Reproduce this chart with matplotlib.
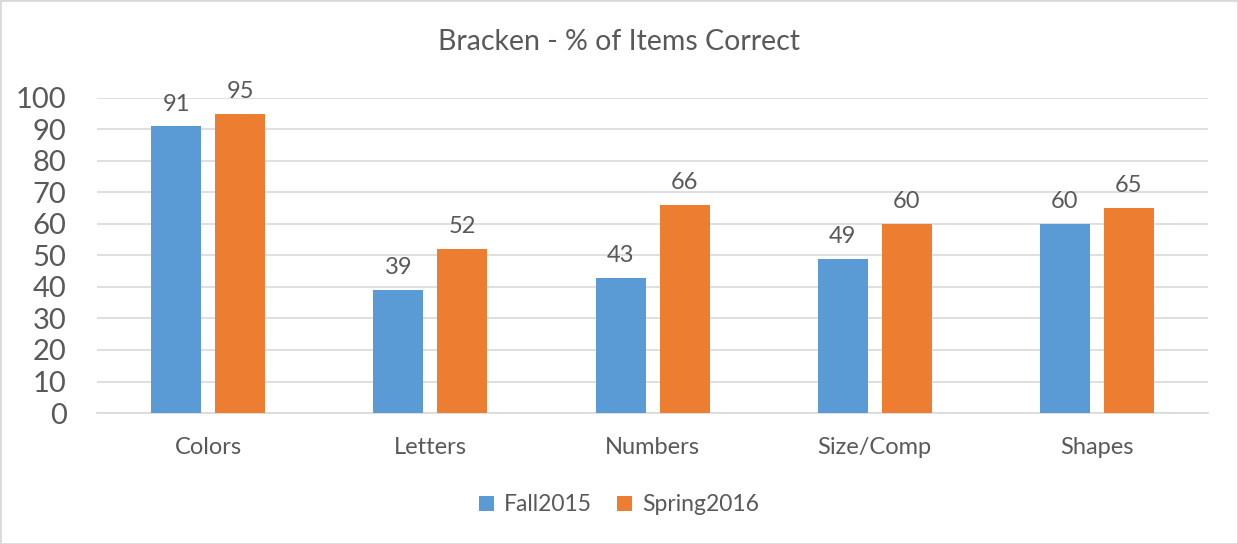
import matplotlib
matplotlib.use("Agg")
import matplotlib.pyplot as plt
import numpy as np
from matplotlib.patches import Rectangle

categories = ["Colors", "Letters", "Numbers", "Size/Comp", "Shapes"]
fall2015 = [91, 39, 43, 49, 60]
spring2016 = [95, 52, 66, 60, 65]
series_names = ["Fall2015", "Spring2016"]
yticks = list(range(0, 101, 10))

plt.rcParams['font.family'] = ['Lato', 'DejaVu Sans']
TXT = '#595959'
BLUE = '#5B9BD5'
ORANGE = '#ED7D31'
GRID = '#D9D9D9'

fig = plt.figure(figsize=(12.38, 5.44), dpi=100)
ax = fig.add_axes([0.0784, 0.2408, 0.8974, 0.5791])

x = np.arange(len(categories))
w = 0.225
off = 0.144
b1 = ax.bar(x - off, fall2015, w, color=BLUE, label=series_names[0], zorder=3)
b2 = ax.bar(x + off, spring2016, w, color=ORANGE, label=series_names[1], zorder=3)

for bars, vals in ((b1, fall2015), (b2, spring2016)):
    for r, v in zip(bars, vals):
        ax.annotate(str(v), (r.get_x() + r.get_width() / 2, v), xytext=(0, 8.5),
                    textcoords='offset points', ha='center', va='bottom',
                    fontsize=17, color=TXT)

ax.set_xlim(-0.5, len(categories) - 0.5)
ax.set_ylim(0, 100)
ax.set_yticks(yticks)
ax.set_yticklabels([str(t) for t in yticks], fontsize=21, color=TXT)
ax.set_xticks(x)
ax.set_xticklabels(categories, fontsize=17, color=TXT)
ax.tick_params(axis='both', length=0)
ax.tick_params(axis='y', pad=22)
ax.tick_params(axis='x', pad=17)
ax.grid(axis='y', color=GRID, linewidth=1.2, zorder=0)
for s in ['top', 'right', 'left']:
    ax.spines[s].set_visible(False)
ax.spines['bottom'].set_color(GRID)
ax.spines['bottom'].set_linewidth(1.2)

fig.text(0.5, 0.923, "Bracken - % of Items Correct", ha='center', va='center',
         fontsize=20.5, color=TXT)

leg = fig.legend(handles=[b1, b2], labels=series_names, loc='center',
                 bbox_to_anchor=(0.5, 0.072), ncol=2, frameon=False,
                 fontsize=16.5, handlelength=0.65, handleheight=0.65,
                 handletextpad=0.45, columnspacing=1.1)
for t in leg.get_texts():
    t.set_color(TXT)

fig.patches.append(Rectangle((0, 0), 1, 1, transform=fig.transFigure,
                             fill=False, edgecolor=GRID, linewidth=2))

fig.savefig("out.png", dpi=100)
